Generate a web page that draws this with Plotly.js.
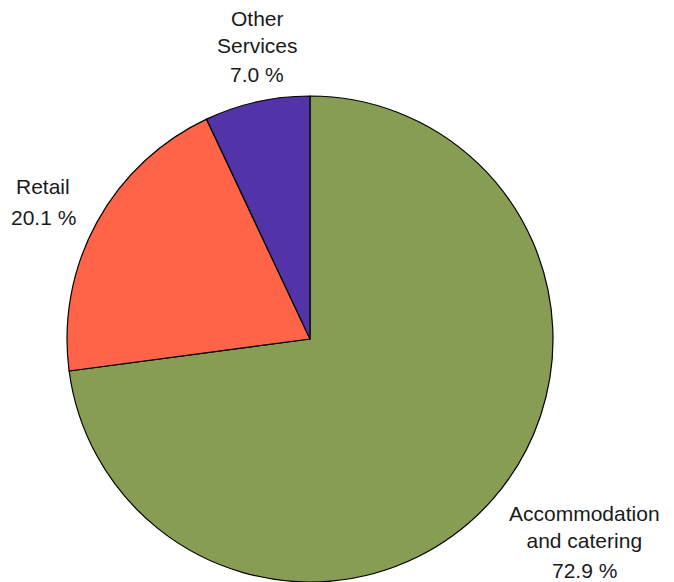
<!DOCTYPE html>
<html><head><meta charset="utf-8">
<script src="https://cdn.plot.ly/plotly-3.0.1.min.js"></script>
<style>html,body{margin:0;padding:0;background:#fff}</style>
</head><body>
<div id="chart" style="width:674px;height:582px"></div>
<script>
const categories = ["Accommodation<br>and catering", "Retail", "Other<br>Services"];
const shares = [72.9, 20.1, 7.0];
const colors = ["#869D53", "#FF6449", "#5233A8"];

// label placement (paper coords): [x, label y, percent y]
const labelPos = [[584/674, 1-527/582, 1-570/582], [43/674, 1-187/582, 1-217/582], [257/674, 1-31.5/582, 1-75/582]];

const font = {family: "Liberation Sans, Arial, sans-serif", size: 21, color: "#1a1a1a"};
const annotations = [];
categories.forEach((c, i) => {
  annotations.push({text: c, x: labelPos[i][0], y: labelPos[i][1], xref: "paper", yref: "paper",
    xanchor: "center", yanchor: "middle", showarrow: false, font: font});
  annotations.push({text: shares[i].toFixed(1) + " %", x: labelPos[i][0], y: labelPos[i][2], xref: "paper", yref: "paper",
    xanchor: "center", yanchor: "middle", showarrow: false, font: font});
});

Plotly.newPlot("chart", [{
  type: "pie",
  labels: categories,
  values: shares,
  sort: false,
  direction: "clockwise",
  rotation: 0,
  marker: {colors: colors, line: {color: "#000", width: 1.2}},
  textinfo: "none",
  hoverinfo: "label+percent",
  domain: {x: [67/674, 553/674], y: [0, 486/582]},
  automargin: false
}], {
  width: 674, height: 582,
  margin: {l: 0, r: 0, t: 0, b: 0},
  showlegend: false,
  paper_bgcolor: "#fff",
  annotations: annotations
}, {displayModeBar: false, staticPlot: true});
</script>
</body></html>
